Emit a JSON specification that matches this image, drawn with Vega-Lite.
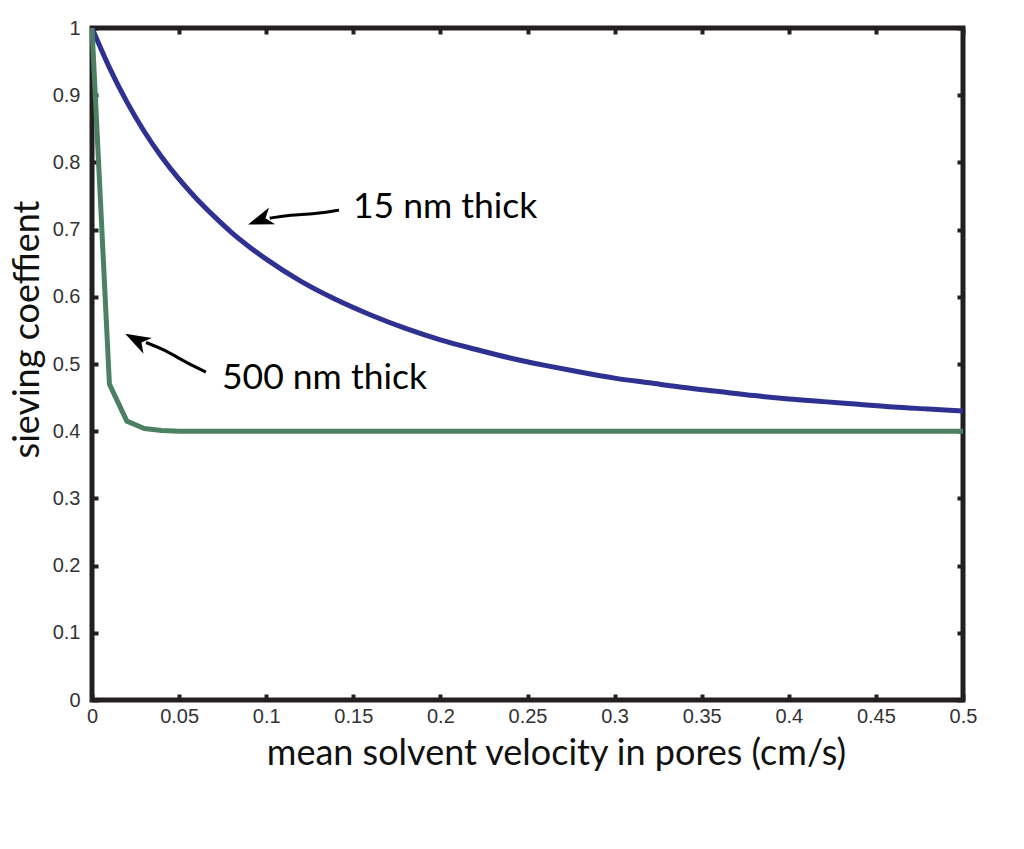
{
  "$schema": "https://vega.github.io/schema/vega-lite/v6.json",
  "width": 871,
  "height": 672,
  "autosize": "none",
  "padding": {"left": 92, "top": 28, "right": 61, "bottom": 149},
  "background": "white",
  "config": {
    "view": {"stroke": "#231f20", "strokeWidth": 5},
    "axis": {
      "domain": false,
      "grid": false,
      "ticks": true,
      "tickColor": "#231f20",
      "tickWidth": 4,
      "tickSize": -6
    }
  },
  "datasets": {
    "thin": [
      {"v": 0.00, "s": 1.000}, {"v": 0.01, "s": 0.941}, {"v": 0.02, "s": 0.890},
      {"v": 0.03, "s": 0.846}, {"v": 0.04, "s": 0.808}, {"v": 0.05, "s": 0.775},
      {"v": 0.06, "s": 0.746}, {"v": 0.07, "s": 0.720}, {"v": 0.08, "s": 0.696},
      {"v": 0.09, "s": 0.675}, {"v": 0.10, "s": 0.656},
      {"v": 0.12, "s": 0.623}, {"v": 0.14, "s": 0.596}, {"v": 0.16, "s": 0.573},
      {"v": 0.18, "s": 0.553}, {"v": 0.20, "s": 0.536}, {"v": 0.22, "s": 0.522},
      {"v": 0.24, "s": 0.509}, {"v": 0.26, "s": 0.498}, {"v": 0.28, "s": 0.488},
      {"v": 0.30, "s": 0.479}, {"v": 0.32, "s": 0.472}, {"v": 0.34, "s": 0.465},
      {"v": 0.36, "s": 0.459}, {"v": 0.38, "s": 0.453}, {"v": 0.40, "s": 0.448},
      {"v": 0.42, "s": 0.444}, {"v": 0.44, "s": 0.440}, {"v": 0.46, "s": 0.436},
      {"v": 0.48, "s": 0.433}, {"v": 0.50, "s": 0.430}
    ],
    "thick": [
      {"v": 0.00, "s": 1.000}, {"v": 0.01, "s": 0.470}, {"v": 0.02, "s": 0.415},
      {"v": 0.03, "s": 0.404}, {"v": 0.04, "s": 0.401}, {"v": 0.05, "s": 0.400},
      {"v": 0.10, "s": 0.400}, {"v": 0.20, "s": 0.400}, {"v": 0.30, "s": 0.400},
      {"v": 0.40, "s": 0.400}, {"v": 0.50, "s": 0.400}
    ],
    "arrows": [
      {"arrow": "a", "i": 0, "v": 0.1418, "s": 0.729},
      {"arrow": "a", "i": 1, "v": 0.1280, "s": 0.723},
      {"arrow": "a", "i": 2, "v": 0.1137, "s": 0.722},
      {"arrow": "a", "i": 3, "v": 0.1020, "s": 0.717},
      {"arrow": "b", "i": 0, "v": 0.0654, "s": 0.488},
      {"arrow": "b", "i": 1, "v": 0.0534, "s": 0.503},
      {"arrow": "b", "i": 2, "v": 0.0419, "s": 0.521},
      {"arrow": "b", "i": 3, "v": 0.0310, "s": 0.532}
    ],
    "heads": [
      {"arrow": "a", "v": 0.0965, "s": 0.714},
      {"arrow": "b", "v": 0.0255, "s": 0.536}
    ],
    "labels": [
      {"text": "15 nm thick", "v": 0.1498, "s": 0.734},
      {"text": "500 nm thick", "v": 0.0746, "s": 0.479}
    ]
  },
  "resolve": {"axis": {"x": "independent", "y": "independent"}},
  "layer": [
    {
      "data": {"name": "thin"},
      "mark": {"type": "line", "color": "#2e3192", "strokeWidth": 5, "interpolate": "monotone"},
      "encoding": {
        "x": {
          "field": "v", "type": "quantitative",
          "scale": {"domain": [0, 0.5], "nice": false, "zero": false},
          "axis": {
            "orient": "bottom",
            "values": [0, 0.05, 0.1, 0.15, 0.2, 0.25, 0.3, 0.35, 0.4, 0.45, 0.5],
            "format": "~g",
            "labelFont": "Liberation Sans",
            "labelFontSize": 20,
            "labelColor": "#333333",
            "labelPadding": 12,
            "labelFlush": false,
            "title": "mean solvent velocity in pores (cm/s)",
            "titleFont": "Lato",
            "titleFontSize": 36,
            "titleFontWeight": "normal",
            "titleColor": "#111111",
            "titleX": 464,
            "titleY": 64,
            "titleBaseline": "alphabetic"
          }
        },
        "y": {
          "field": "s", "type": "quantitative",
          "scale": {"domain": [0, 1], "nice": false},
          "axis": {
            "orient": "left",
            "values": [0, 0.1, 0.2, 0.3, 0.4, 0.5, 0.6, 0.7, 0.8, 0.9, 1],
            "format": "~g",
            "labelFont": "Liberation Sans",
            "labelFontSize": 20,
            "labelColor": "#333333",
            "labelPadding": 18,
            "labelFlush": false,
            "title": "sieving coeffient",
            "titleFont": "Lato",
            "titleFontSize": 36,
            "titleFontWeight": "normal",
            "titleColor": "#111111",
            "titleAngle": -90,
            "titleX": -54,
            "titleY": 301,
            "titleBaseline": "alphabetic",
            "titleAlign": "center"
          }
        }
      }
    },
    {
      "data": {"name": "thick"},
      "mark": {"type": "line", "color": "#4b8063", "strokeWidth": 5, "strokeJoin": "round"},
      "encoding": {
        "x": {"field": "v", "type": "quantitative", "axis": null},
        "y": {"field": "s", "type": "quantitative", "axis": null}
      }
    },
    {
      "data": {"name": "arrows"},
      "mark": {"type": "line", "color": "black", "strokeWidth": 3, "interpolate": "basis"},
      "encoding": {
        "x": {"field": "v", "type": "quantitative", "axis": null},
        "y": {"field": "s", "type": "quantitative", "axis": null},
        "detail": {"field": "arrow"},
        "order": {"field": "i"}
      }
    },
    {
      "data": {"name": "heads"},
      "transform": [{"filter": "datum.arrow === 'a'"}],
      "mark": {"type": "point", "shape": "M-1,0L1,-0.7L0.45,0L1,0.7Z", "filled": true, "color": "black", "opacity": 1, "size": 650, "angle": 340},
      "encoding": {
        "x": {"field": "v", "type": "quantitative", "axis": null},
        "y": {"field": "s", "type": "quantitative", "axis": null}
      }
    },
    {
      "data": {"name": "heads"},
      "transform": [{"filter": "datum.arrow === 'b'"}],
      "mark": {"type": "point", "shape": "M-1,0L1,-0.7L0.45,0L1,0.7Z", "filled": true, "color": "black", "opacity": 1, "size": 650, "angle": 28},
      "encoding": {
        "x": {"field": "v", "type": "quantitative", "axis": null},
        "y": {"field": "s", "type": "quantitative", "axis": null}
      }
    },
    {
      "data": {"name": "labels"},
      "mark": {"type": "text", "font": "Lato", "fontSize": 35.5, "align": "left", "baseline": "middle", "color": "black"},
      "encoding": {
        "x": {"field": "v", "type": "quantitative", "axis": null},
        "y": {"field": "s", "type": "quantitative", "axis": null},
        "text": {"field": "text"}
      }
    },
    {
      "data": {"name": "thin"},
      "mark": {"type": "point", "opacity": 0},
      "encoding": {
        "x": {
          "field": "v", "type": "quantitative",
          "axis": {
            "orient": "top",
            "values": [0, 0.05, 0.1, 0.15, 0.2, 0.25, 0.3, 0.35, 0.4, 0.45, 0.5],
            "labels": false,
            "title": null
          }
        },
        "y": {
          "field": "s", "type": "quantitative",
          "axis": {
            "orient": "right",
            "values": [0, 0.1, 0.2, 0.3, 0.4, 0.5, 0.6, 0.7, 0.8, 0.9, 1],
            "labels": false,
            "title": null
          }
        }
      }
    }
  ]
}
